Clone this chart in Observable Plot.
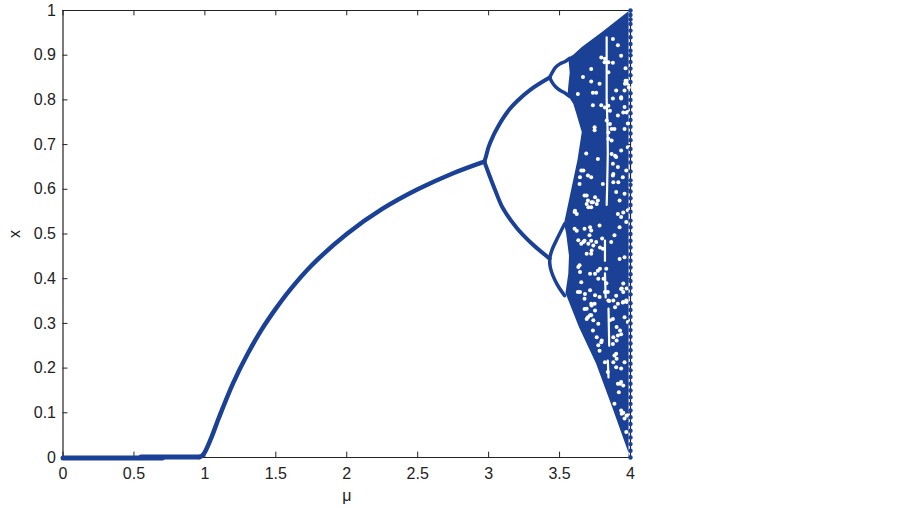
<!DOCTYPE html>
<html><head><meta charset="utf-8">
<script src="https://cdn.jsdelivr.net/npm/d3@7"></script>
<script src="https://cdn.jsdelivr.net/npm/@observablehq/plot@0.6"></script>
<style>html,body{margin:0;padding:0;background:#fff}svg{display:block}</style>
</head><body><div id="chart"></div>
<script>
const xTicks = [0,0.5,1,1.5,2,2.5,3,3.5,4];
const yTicks = [0,0.1,0.2,0.3,0.4,0.5,0.6,0.7,0.8,0.9,1];

// stable branches, [mu, x]
const tailLow = [[0,-0.001],[0.7,-0.001]];
const tailHigh = [[0.55,0.001],[0.96,0.001]];
const stable = [[0.96,0.001],[0.98,0.004],[1,0.012],[1.05,0.048],[1.1,0.09],[1.2,0.167],[1.3,0.231],[1.4,0.286],[1.5,0.333],[1.6,0.375],[1.75,0.429],[2,0.5],[2.25,0.556],[2.5,0.6],[2.75,0.636],[2.97,0.662]];
const upperTwo = [[2.97,0.662],[2.98,0.672],[3,0.695],[3.03,0.718],[3.07,0.742],[3.1,0.758],[3.15,0.78],[3.2,0.797],[3.3,0.824],[3.43,0.85]];
const lowerTwo = [[2.97,0.662],[3,0.636],[3.05,0.595],[3.1,0.558],[3.2,0.513],[3.3,0.48],[3.43,0.445]];
const bubbleA = [[3.43,0.85],[3.45,0.862],[3.47,0.872],[3.5,0.88],[3.54,0.886],[3.57,0.893]];
const bubbleB = [[3.43,0.85],[3.45,0.838],[3.47,0.83],[3.5,0.822],[3.54,0.815],[3.57,0.808]];
const bubbleC = [[3.43,0.445],[3.445,0.463],[3.487,0.492],[3.536,0.523]];
const bubbleD = [[3.43,0.445],[3.435,0.425],[3.48,0.389],[3.536,0.362]];

// edge of the filled chaotic region
const edgeX    = [1,0.95,0.917,0.9,0.893,0.86,0.83,0.81,0.79,0.77,0.727,0.665,0.575,0.523,0.5,0.45,0.41,0.367,0.291,0.21,0.112,0];
const edgeLeft = [4,3.8,3.66,3.6,3.565,3.575,3.565,3.56,3.6,3.62,3.66,3.63,3.57,3.535,3.55,3.57,3.565,3.545,3.64,3.76,3.874,4];

// iterates sitting on mu = 4
const edgeDots = [1,0.99,0.98,0.97,0.955,0.94,0.925,0.91,0.9,0.885,0.87,0.855,0.84,0.815,0.8,0.785,0.77,0.755,0.74,0.725,0.71,0.69,0.675,0.66,0.64,0.62,0.61,0.595,0.58,0.565,0.55,0.53,0.515,0.5,0.485,0.47,0.455,0.44,0.425,0.41,0.395,0.38,0.365,0.345,0.33,0.315,0.3,0.285,0.27,0.255,0.24,0.225,0.21,0.195,0.18,0.165,0.15,0.135,0.12,0.105,0.09,0.075,0.06,0.045,0.03,0.015,0];

// the period-3 window gap
const stripSegments = [
 [[3.832,0.94],[3.832,0.8],[3.838,0.74],[3.84,0.68],[3.835,0.6],[3.832,0.565]],
 [[3.82,0.485],[3.82,0.44]],
 [[3.82,0.412],[3.825,0.358]],
 [[3.845,0.333],[3.85,0.25]],
 [[3.84,0.217],[3.845,0.179]]
];

// empty specks in the filled region
const gaps = [[3.794,0.895],[3.817,0.884],[3.876,0.883],[3.934,0.899],[3.965,0.871],[3.981,0.836],[3.965,0.843],[3.988,0.828],[3.958,0.821],[3.899,0.821],[3.934,0.806],[3.758,0.816],[3.723,0.869],[3.665,0.851],[3.723,0.841],[3.735,0.816],[3.782,0.836],[3.629,0.813],[3.876,0.936],[3.911,0.922],
[3.735,0.788],[3.747,0.732],[3.747,0.739],[3.794,0.788],[3.876,0.803],[3.934,0.803],[3.958,0.784],[3.981,0.773],[3.911,0.765],[3.887,0.735],[3.981,0.747],[3.958,0.735],[3.981,0.694],[3.934,0.687],[3.899,0.672],[3.876,0.657],[3.97,0.642],[3.911,0.65],[3.946,0.627],[3.876,0.631],[3.688,0.68],[3.653,0.642],[3.723,0.627],[3.7,0.631],[3.641,0.612],[3.805,0.612],[3.77,0.668],
[3.676,0.586],[3.7,0.575],[3.735,0.571],[3.77,0.575],[3.723,0.56],[3.606,0.512],[3.606,0.549],[3.911,0.545],[3.934,0.538],[3.981,0.553],[3.97,0.527],[3.923,0.575],[3.899,0.594],[3.958,0.59],[3.676,0.512],[3.723,0.508],[3.711,0.497],[3.676,0.485],[3.653,0.478],[3.723,0.485],[3.758,0.482],[3.782,0.519],[3.864,0.482],[3.887,0.497],[3.923,0.515],[3.958,0.448],[3.923,0.444],[3.77,0.418],[3.723,0.456],[3.641,0.43],[3.805,0.467],[3.829,0.422],
[3.653,0.392],[3.629,0.37],[3.676,0.355],[3.723,0.344],[3.747,0.344],[3.676,0.332],[3.7,0.314],[3.723,0.318],[3.735,0.284],[3.794,0.258],[3.782,0.239],[3.946,0.347],[3.97,0.351],[3.911,0.344],[3.934,0.377],[3.899,0.362],[3.876,0.31],[3.934,0.276],[3.911,0.273],[3.887,0.228],[3.899,0.232],[3.958,0.314],[3.981,0.303],[3.782,0.359],[3.876,0.254],[3.958,0.213],
[3.84,0.191],[3.899,0.202],[3.934,0.199],[3.911,0.165],[3.934,0.169],[3.918,0.146],[3.934,0.105],[3.958,0.087],[3.981,0.094],[3.887,0.12],[3.97,0.057]];
const gapsLower = [[3.632,0.486],[3.668,0.482],[3.703,0.478],[3.738,0.474],[3.691,0.456],[3.726,0.463],[3.632,0.426],[3.644,0.415],[3.715,0.411],[3.75,0.411],[3.773,0.4],[3.785,0.422],[3.644,0.37],[3.679,0.366],[3.715,0.374],[3.75,0.363],[3.691,0.333],[3.726,0.34],[3.75,0.329],[3.691,0.31],[3.738,0.307],[3.773,0.299],[3.715,0.318],[3.762,0.269],[3.797,0.262],[3.773,0.251],[3.82,0.213],[3.902,0.221],[3.879,0.213],[3.949,0.389],[3.973,0.378],[3.938,0.378],[3.949,0.37],[3.949,0.348],[3.973,0.348],[3.902,0.292],[3.926,0.284],[3.926,0.165],[3.949,0.161],[3.949,0.1],[3.973,0.094],[3.938,0.098],[3.879,0.351],[3.891,0.336],[3.844,0.351],[3.855,0.307],[3.879,0.269],[3.902,0.262],[3.8,0.49],[3.785,0.47],[3.81,0.4],[3.83,0.39],[3.82,0.37],[3.84,0.37],[3.85,0.35]];
const gapsUpper = [[3.82,0.892],[3.844,0.884],[3.844,0.862],[3.82,0.783],[3.844,0.787],[3.855,0.776],[3.855,0.746],[3.867,0.735],[3.844,0.727],[3.832,0.754],[3.844,0.713],[3.867,0.709],[3.891,0.675],[3.867,0.679],[3.879,0.634],[3.691,0.586],[3.726,0.571],[3.762,0.567],[3.75,0.582],[3.691,0.567],[3.703,0.56],[3.961,0.836],[3.973,0.843],[3.973,0.772],[3.949,0.772],[3.949,0.548],[3.644,0.627],[3.668,0.642],[3.609,0.552],[3.621,0.545],[3.621,0.507],[3.715,0.515],[3.879,0.616],[3.914,0.616]];

const blue = "#1b4196", ink = "#222222";
const branch = (data, sw = 4) => Plot.line(data, {x: d => d[0], y: d => d[1], stroke: blue, strokeWidth: sw, curve: "catmull-rom", strokeLinecap: "round", strokeLinejoin: "round"});

const fmt = d => String(d);
const chart = Plot.plot({
  width: 903, height: 508,
  marginLeft: 62.5, marginRight: 273, marginTop: 10, marginBottom: 51,
  style: {fontFamily: "'Liberation Sans', Arial, sans-serif", fontSize: "16px", color: "#222", background: "#fff"},
  x: {domain: [0, 4]},
  y: {domain: [0, 1]},
  marks: [
    Plot.axisX({ticks: xTicks, tickSize: 0, tickPadding: 10, tickFormat: fmt, label: "μ", labelAnchor: "center", labelArrow: "none", labelOffset: 43, fontSize: 16}),
    Plot.axisY({ticks: yTicks, tickSize: 0, tickPadding: 7, tickFormat: fmt, label: "x", labelAnchor: "center", labelArrow: "none", labelOffset: 54, fontSize: 16}),
    Plot.ruleX([0, 4], {stroke: ink, strokeWidth: 1.2}),
    Plot.ruleY([0, 1], {stroke: ink, strokeWidth: 1.2}),
    Plot.ruleX(xTicks, {y1: 0, y2: 0.012, stroke: ink}),
    Plot.ruleX(xTicks, {y1: 1, y2: 0.988, stroke: ink}),
    Plot.ruleY(yTicks, {x1: 0, x2: 0.035, stroke: ink}),
    Plot.ruleY(yTicks, {x1: 4, x2: 3.965, stroke: ink}),
    branch(tailLow, 5), branch(tailHigh, 5), branch(stable, 4.5),
    branch(upperTwo), branch(lowerTwo),
    branch(bubbleA, 3.5), branch(bubbleB, 3.5), branch(bubbleC, 3.5), branch(bubbleD, 3.5),
    Plot.areaX(edgeX, {y: d => d, x1: (d, i) => edgeLeft[i], x2: () => 3.99, fill: blue}),
    ...stripSegments.map(s => Plot.line(s, {x: d => d[0], y: d => d[1], stroke: "#fff", strokeWidth: 2.2, strokeLinecap: "round"})),
    Plot.dot(gaps, {x: d => d[0], y: d => d[1], r: 2, fill: "#fff"}),
    Plot.dot(gapsLower, {x: d => d[0], y: d => d[1], r: 2, fill: "#fff"}),
    Plot.dot(gapsUpper, {x: d => d[0], y: d => d[1], r: 2, fill: "#fff"}),
    Plot.dot(edgeDots, {x: () => 4, y: d => d, r: 2.2, fill: blue})
  ]
});
document.getElementById("chart").append(chart);
</script></body></html>
